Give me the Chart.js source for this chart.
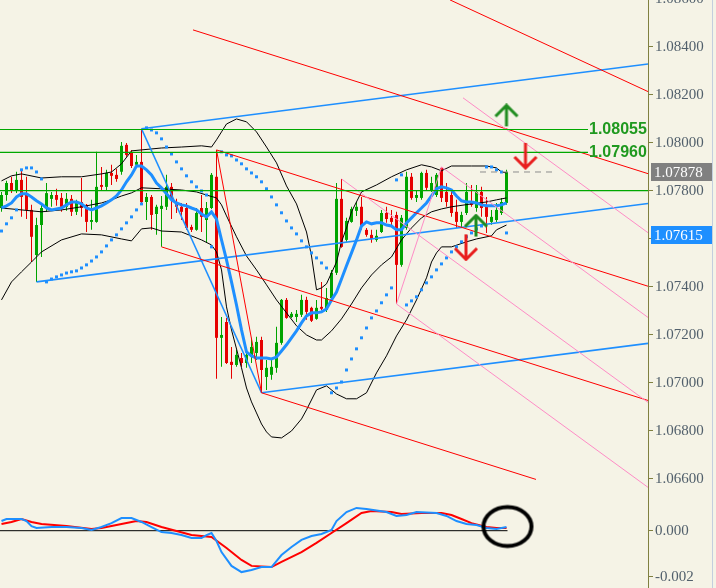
<!DOCTYPE html>
<html>
<head>
<meta charset="utf-8">
<script src="https://cdn.jsdelivr.net/npm/chart.js@4.4.1/dist/chart.umd.min.js"></script>
<style>
  html, body { margin: 0; padding: 0; background: #f5f3e6; }
  canvas { display: block; }
</style>
</head>
<body>
<canvas id="c" width="716" height="588"></canvas>
<script>
// candles, one per bar (bar index = position in array)
const open = [1.07728,1.07782,1.07832,1.07799,1.07845,1.07782,1.07720,1.07532,1.07657,1.07728,
  1.07766,1.07782,1.07770,1.07733,1.07766,1.07712,1.07753,1.07741,1.07670,1.07670,
  1.07824,1.07816,1.07874,1.07866,1.07879,1.07991,1.07958,1.07908,1.07920,1.07753,
  1.07774,1.07703,1.07724,1.07733,1.07816,1.07753,1.07733,1.07728,1.07649,1.07637,
  1.07728,1.07678,1.07728,1.07858,1.07187,1.07253,1.07087,1.07074,1.07103,1.07082,
  1.07108,1.07124,1.07178,1.07024,1.07033,1.07062,1.07166,1.07345,1.07274,1.07274,
  1.07283,1.07345,1.07312,1.07266,1.07316,1.07303,1.07353,1.07458,1.07766,1.07595,
  1.07670,1.07716,1.07733,1.07637,1.07616,1.07595,1.07628,1.07707,1.07687,1.07699,
  1.07491,1.07645,1.07858,1.07770,1.07770,1.07874,1.07803,1.07782,1.07895,1.07795,
  1.07782,1.07712,1.07670,1.07707,1.07753,1.07728,1.07795,1.07733,1.07670,1.07678,
  1.07707,1.07749];
const high = [1.07795,1.07841,1.07858,1.07879,1.07883,1.07858,1.07741,1.07687,1.07741,1.07832,
  1.07795,1.07808,1.07790,1.07790,1.07782,1.07762,1.07853,1.07745,1.07762,1.07962,
  1.07899,1.07887,1.07908,1.07891,1.08003,1.07999,1.07970,1.07949,1.08058,1.07790,
  1.07782,1.07741,1.07778,1.07866,1.07832,1.07766,1.07749,1.07749,1.07658,1.07728,
  1.07782,1.07753,1.07874,1.07970,1.07274,1.07270,1.07149,1.07137,1.07124,1.07137,
  1.07187,1.07191,1.07191,1.07095,1.07095,1.07233,1.07349,1.07353,1.07295,1.07303,
  1.07366,1.07358,1.07316,1.07345,1.07420,1.07395,1.07470,1.07832,1.07849,1.07687,
  1.07733,1.07753,1.07774,1.07645,1.07637,1.07637,1.07720,1.07733,1.07720,1.07712,
  1.07699,1.07879,1.07874,1.07803,1.07879,1.07887,1.07858,1.07874,1.07899,1.07832,
  1.07795,1.07762,1.07712,1.07832,1.07824,1.07824,1.07816,1.07774,1.07720,1.07749,
  1.07770,1.07887];
const low = [1.07712,1.07758,1.07790,1.07790,1.07691,1.07682,1.07503,1.07420,1.07524,1.07712,
  1.07733,1.07737,1.07712,1.07716,1.07695,1.07699,1.07691,1.07628,1.07637,1.07666,
  1.07803,1.07803,1.07824,1.07837,1.07866,1.07941,1.07895,1.07899,1.07749,1.07678,
  1.07637,1.07616,1.07566,1.07720,1.07682,1.07707,1.07678,1.07637,1.07628,1.07633,
  1.07628,1.07583,1.07724,1.07016,1.07066,1.07078,1.07016,1.07066,1.07066,1.07062,
  1.07082,1.07095,1.06958,1.06970,1.07012,1.07041,1.07158,1.07266,1.07270,1.07253,
  1.07274,1.07262,1.07253,1.07262,1.07303,1.07295,1.07345,1.07449,1.07562,1.07587,
  1.07666,1.07695,1.07637,1.07608,1.07583,1.07587,1.07624,1.07666,1.07653,1.07328,
  1.07483,1.07637,1.07762,1.07753,1.07762,1.07803,1.07795,1.07774,1.07753,1.07733,
  1.07691,1.07645,1.07649,1.07699,1.07733,1.07712,1.07691,1.07624,1.07658,1.07670,
  1.07699,1.07741];
const close = [1.07782,1.07832,1.07803,1.07845,1.07774,1.07720,1.07608,1.07657,1.07728,1.07790,
  1.07782,1.07762,1.07733,1.07766,1.07712,1.07753,1.07728,1.07670,1.07678,1.07816,
  1.07816,1.07874,1.07862,1.07849,1.07987,1.07949,1.07903,1.07920,1.07753,1.07774,
  1.07699,1.07733,1.07737,1.07816,1.07762,1.07733,1.07712,1.07645,1.07637,1.07707,
  1.07691,1.07728,1.07866,1.07187,1.07199,1.07082,1.07074,1.07116,1.07082,1.07116,
  1.07149,1.07170,1.07053,1.07062,1.07066,1.07166,1.07345,1.07270,1.07287,1.07287,
  1.07345,1.07295,1.07258,1.07312,1.07308,1.07353,1.07458,1.07766,1.07566,1.07674,
  1.07724,1.07733,1.07649,1.07616,1.07599,1.07612,1.07707,1.07682,1.07670,1.07491,
  1.07687,1.07858,1.07770,1.07782,1.07874,1.07812,1.07832,1.07866,1.07770,1.07753,
  1.07707,1.07670,1.07699,1.07795,1.07741,1.07795,1.07728,1.07691,1.07691,1.07720,
  1.07753,1.07878];

// moving average (blue), one value per bar
const ma = [1.07728,1.07737,1.07749,1.07774,1.07787,1.07787,1.07774,1.07758,1.07745,1.07728,
  1.07720,1.07724,1.07728,1.07741,1.07753,1.07753,1.07745,1.07728,1.07720,1.07728,
  1.07737,1.07749,1.07762,1.07778,1.07803,1.07837,1.07866,1.07903,1.07903,1.07887,
  1.07866,1.07832,1.07812,1.07787,1.07762,1.07749,1.07741,1.07737,1.07728,1.07720,
  1.07703,1.07691,1.07712,1.07682,1.07595,1.07512,1.07420,1.07324,1.07220,1.07128,
  1.07112,1.07103,1.07103,1.07103,1.07099,1.07107,1.07132,1.07158,1.07187,1.07216,
  1.07249,1.07278,1.07291,1.07291,1.07295,1.07307,1.07345,1.07378,1.07432,1.07487,
  1.07541,1.07595,1.07653,1.07670,1.07662,1.07666,1.07666,1.07657,1.07653,1.07637,
  1.07637,1.07666,1.07687,1.07708,1.07728,1.07749,1.07778,1.07808,1.07816,1.07812,
  1.07803,1.07778,1.07758,1.07753,1.07753,1.07749,1.07741,1.07737,1.07737,1.07737,
  1.07741,1.07749];

// parabolic SAR dots, one per bar
const sar = [1.07632,1.07662,1.07687,1.07720,1.07887,1.07895,1.07895,1.07878,1.07849,
  1.07420,1.07432,1.07441,1.07449,1.07457,1.07462,1.07466,1.07478,1.07491,1.07507,1.07524,
  1.07545,1.07570,1.07595,1.07616,1.07641,1.07666,1.07691,1.07720,1.07745,
  1.08062,1.08053,1.08041,1.08016,1.07982,1.07953,1.07920,1.07891,1.07862,1.07837,1.07816,1.07799,1.07782,
  1.07566,null,
  1.07962,1.07949,1.07945,1.07928,1.07912,1.07891,1.07874,1.07858,1.07837,1.07808,1.07774,
  1.07741,1.07708,1.07674,1.07645,1.07620,1.07591,1.07566,1.07541,1.07520,1.07499,1.07478,
  1.06958,1.06978,1.07003,1.07053,1.07099,1.07141,1.07187,1.07228,1.07270,1.07299,1.07333,1.07366,1.07395,
  1.07845,1.07866,
  1.07324,1.07341,1.07358,1.07387,1.07416,1.07441,1.07470,1.07495,1.07520,1.07545,1.07566,1.07587,
  1.07608,1.07624,1.07641,1.07653,
  1.07899,1.07899,1.07887,1.07878,
  1.07624];

// bollinger bands, read at these bars
const upIdx = [0,2,4,8,12,16,20,22,24,26,28,32,36,40,42,43,44,45,47,49,51,53,55,57,59,61,62,63,64,65,67,68,69,70,72,75,78,81,84,86,88,90,94,97,99,100,101];
const bbUp = [1.07841,1.07862,1.07870,1.07853,1.07858,1.07858,1.07870,1.07878,1.07912,1.07966,
  1.07970,1.07978,1.07982,1.07987,1.07982,1.08012,1.08045,1.08078,1.08099,1.08087,
  1.08045,1.07982,1.07916,1.07820,1.07745,1.07628,1.07528,1.07387,1.07395,1.07412,
  1.07503,1.07587,1.07645,1.07712,1.07795,1.07824,1.07858,1.07887,1.07908,1.07899,
  1.07883,1.07903,1.07903,1.07903,1.07895,1.07878,1.07874];
const midIdx = [0,4,8,12,16,20,22,24,26,28,32,36,39,41,43,44,45,47,49,51,53,55,57,59,61,63,64,66,68,70,72,74,76,78,80,82,84,86,88,90,94,97,99,101];
const bbMid = [1.07728,1.07720,1.07712,1.07720,1.07733,1.07749,1.07762,1.07778,1.07791,1.07812,
  1.07808,1.07803,1.07795,1.07782,1.07770,1.07741,1.07695,1.07608,1.07528,1.07470,
  1.07408,1.07345,1.07291,1.07237,1.07199,1.07178,1.07178,1.07216,1.07266,1.07328,
  1.07395,1.07449,1.07491,1.07524,1.07595,1.07645,1.07687,1.07712,1.07724,1.07733,
  1.07745,1.07753,1.07762,1.07770];
const lowIdx = [0,2,4,6,8,12,16,20,24,26,28,30,32,36,40,42,43,44,45,46,48,49,50,51,52,53,54,56,58,60,61,63,65,67,69,71,73,75,77,79,81,83,85,86,87,88,90,93,95,98,99,101];
const bbLow = [1.07345,1.07420,1.07462,1.07503,1.07545,1.07595,1.07620,1.07616,1.07599,1.07591,
  1.07641,1.07645,1.07632,1.07628,1.07595,1.07574,1.07545,1.07470,1.07316,1.07220,
  1.07062,1.06978,1.06920,1.06874,1.06828,1.06795,1.06774,1.06770,1.06799,1.06849,
  1.06887,1.06970,1.06987,1.06953,1.06933,1.06933,1.06958,1.07041,1.07112,1.07195,
  1.07262,1.07345,1.07437,1.07503,1.07541,1.07566,1.07566,1.07587,1.07599,1.07612,
  1.07637,1.07657];

// MACD panel
const macdIdx = [0,1,4,5,6,7,10,13,16,18,20,22,24,26,28,30,32,34,36,38,40,41,42,43,44,46,48,50,52,54,56,58,60,62,64,66,67,69,71,73,77,79,81,83,87,89,91,93,95,97,99,101];
const macdMain = [0.00042,0.00051,0.00051,0.00042,0.00020,0.00012,0.00016,0.00016,0.00012,0.00003,
  0.00016,0.00033,0.00055,0.00055,0.00038,0.00016,-0.00006,-0.00010,-0.00019,-0.00032,
  -0.00032,-0.00019,-0.00010,-0.00045,-0.00093,-0.00153,-0.00180,-0.00171,-0.00158,-0.00158,
  -0.00106,-0.00071,-0.00040,-0.00023,-0.00014,0.00003,0.00042,0.00081,0.00099,0.00094,
  0.00081,0.00064,0.00068,0.00081,0.00077,0.00064,0.00042,0.00029,0.00025,0.00012,
  0.00007,0.00016];
const sigIdx = [0,2,4,6,8,13,18,20,24,27,29,32,35,38,42,45,48,50,54,56,60,63,66,69,72,74,78,80,84,88,90,92,94,97,99,101];
const macdSignal = [0.00029,0.00038,0.00051,0.00038,0.00029,0.00020,0.00007,0.00012,0.00029,0.00042,
  0.00038,0.00016,-0.00001,-0.00019,-0.00027,-0.00075,-0.00127,-0.00153,-0.00158,-0.00136,
  -0.00093,-0.00053,-0.00010,0.00033,0.00077,0.00086,0.00081,0.00073,0.00077,0.00077,
  0.00068,0.00051,0.00033,0.00016,0.00012,0.00012];

// drawn objects: [bar1, price1, bar2, price2]
const redLines = [[38.3,1.08470,129.3,1.07871],[89.7,1.08595,129.3,1.08213],[43,1.07970,129.3,1.07402],
  [32,1.07566,129.3,1.06926],[52,1.06958,106.9,1.06597],[43,1.07970,52,1.06958]];
const blueLines = [[28,1.08058,129.3,1.08328],[7,1.07420,129.3,1.07747],[52,1.06958,129.3,1.07164],
  [28,1.08058,52,1.06958]];
const pinkLines = [[68,1.07849,129.3,1.06918],[79,1.07328,129.3,1.06564],[88,1.07899,129.3,1.07272],
  [92.3,1.08187,129.3,1.07625],[79,1.07328,88,1.07899]];
const levels = [1.08055, 1.07960, 1.07800];
const levelEnd = [117.3, 117.3, 129.3];
const levelText = ['1.08055', '1.07960'];
const bid = 1.07878;
const blueMark = 1.07615;
const topTick = 1.086;
const upArrowX = [101, 94.9], upArrowY = [1.08114, 1.07655];
const downArrowX = [104.8, 92.9], downArrowY = [1.07945, 1.07564];

const GREEN = '#00a400', RED = '#e60000', BLUE = '#1e8fff', PINK = '#ff8cc6';

function pts(xs, ys) { return xs.map((x, i) => ({x: x, y: ys[i]})); }
function seg(l) { return [{x: l[0], y: l[1]}, {x: l[2], y: l[3]}]; }

function arrow(color, up, h) {
  const c = document.createElement('canvas');
  c.width = 26; c.height = h + 2;
  const g = c.getContext('2d');
  g.strokeStyle = color; g.lineWidth = 3; g.lineJoin = 'miter';
  g.beginPath();
  if (up) {
    g.moveTo(13, 2); g.lineTo(13, h + 1);
    g.moveTo(2, 13); g.lineTo(13, 2); g.lineTo(24, 13);
  } else {
    g.moveTo(13, 1); g.lineTo(13, h);
    g.moveTo(2, h - 11); g.lineTo(13, h); g.lineTo(24, h - 11);
  }
  g.stroke();
  return c;
}
function ellipse() {
  const c = document.createElement('canvas');
  c.width = 56; c.height = 46;
  const g = c.getContext('2d');
  g.strokeStyle = '#000'; g.lineWidth = 4;
  g.beginPath(); g.ellipse(28, 23, 24, 19.5, 0, 0, Math.PI * 2); g.stroke();
  return c;
}

const lineDs = (data, color, width, axis) => ({
  type: 'line', data: data, yAxisID: axis || 'y', borderColor: color, borderWidth: width,
  pointRadius: 0, tension: 0, fill: false
});

const datasets = [];
datasets.push({type: 'scatter', yAxisID: 'y2', data: [{x: 101.2, y: 0.00018}], pointStyle: ellipse(), pointRadius: 10, clip: false});
datasets.push({type: 'scatter', yAxisID: 'y', data: pts(upArrowX, upArrowY), pointStyle: arrow('#1f8c1f', true, 22), pointRadius: 10});
datasets.push({type: 'scatter', yAxisID: 'y', data: pts(downArrowX, downArrowY), pointStyle: arrow('#e81e1e', false, 26), pointRadius: 10});
datasets.push(lineDs(pts(macdIdx, macdMain), BLUE, 2, 'y2'));
datasets.push(lineDs(pts(sigIdx, macdSignal), '#ff0000', 2, 'y2'));
datasets.push(lineDs([{x: -0.3, y: 0}, {x: 101.2, y: 0}], '#000', 1, 'y2'));
levels.forEach((p, i) => datasets.push(lineDs([{x: -0.3, y: p}, {x: levelEnd[i], y: p}], '#00a800', 1.2)));
datasets.push(Object.assign(lineDs([{x: 95.7, y: bid}, {x: 111, y: bid}], '#8c8c8c', 1), {borderDash: [6, 5]}));
pinkLines.forEach(l => datasets.push(lineDs(seg(l), PINK, 1)));
redLines.forEach(l => datasets.push(lineDs(seg(l), '#ff0000', 1)));
blueLines.forEach(l => datasets.push(lineDs(seg(l), BLUE, 1.6)));
datasets.push({type: 'scatter', yAxisID: 'y',
  data: sar.map((v, i) => ({x: i, y: v})).filter(p => p.y !== null),
  pointStyle: 'rect', pointRadius: 2.1, backgroundColor: BLUE, borderWidth: 0});
datasets.push(lineDs(ma.map((v, i) => ({x: i, y: v})), BLUE, 3));
datasets.push(lineDs(pts(upIdx, bbUp), '#000', 1));
datasets.push(lineDs(pts(midIdx, bbMid), '#000', 1));
datasets.push(lineDs(pts(lowIdx, bbLow), '#000', 1));

const candleColor = open.map((o, i) => close[i] >= o ? GREEN : RED);
datasets.push({type: 'bar', yAxisID: 'y', data: open.map((o, i) => ({x: i, y: [o, close[i]]})),
  backgroundColor: candleColor, barThickness: 3, minBarLength: 1, grouped: false, borderWidth: 0, inflateAmount: 0});
datasets.push({type: 'bar', yAxisID: 'y', data: low.map((l, i) => ({x: i, y: [l, high[i]]})),
  backgroundColor: candleColor, barThickness: 1, grouped: false, borderWidth: 0, inflateAmount: 0});

const AXIS = '#808040';
const axisFont = {family: '"Liberation Serif", "Times New Roman", serif', size: 15};

const paint = {
  id: 'paint',
  beforeDraw(chart) {
    const c = chart.ctx;
    c.save(); c.fillStyle = '#f5f3e6'; c.fillRect(0, 0, chart.width, chart.height); c.restore();
  },
  afterDatasetsDraw(chart) {
    const c = chart.ctx, xs = chart.scales.x, ys = chart.scales.y;
    c.save();
    c.font = 'bold 16px "Liberation Sans", Arial, sans-serif';
    c.fillStyle = '#1f991f';
    c.textBaseline = 'middle';
    levelText.forEach((t, i) => c.fillText(t, xs.getPixelForValue(117.5), ys.getPixelForValue(levels[i])));
    c.restore();
  },
  afterDraw(chart) {
    const c = chart.ctx, ys = chart.scales.y;
    const left = ys.left + 3;
    c.save();
    c.font = '15px "Liberation Serif", "Times New Roman", serif';
    c.textBaseline = 'middle';
    [[bid, '#808080'], [blueMark, '#1e8fff']].forEach(b => {
      const py = Math.round(ys.getPixelForValue(b[0]));
      c.fillStyle = b[1];
      c.fillRect(left, py - 9, 62, 18);
      c.fillStyle = '#ffffff';
      c.fillText(b[0].toFixed(5), left + 3, py + 1);
    });
    c.fillStyle = '#c4cede';
    c.fillRect(712, 0, 1, chart.height);
    c.restore();
  }
};

new Chart(document.getElementById('c'), {
  type: 'line',
  data: {datasets: datasets},
  options: {
    responsive: false,
    animation: false,
    events: [],
    layout: {padding: 0, autoPadding: false},
    plugins: {legend: {display: false}, tooltip: {enabled: false}},
    scales: {
      x: {type: 'linear', min: -0.3, max: 129.3, display: false, offset: false},
      y: {
        type: 'linear', position: 'right', stack: 'pane', stackWeight: 494,
        min: 1.065363, max: 1.085946,
        ticks: {stepSize: 0.002, includeBounds: false, color: '#52606c', font: axisFont, padding: 2,
          callback: v => v.toFixed(5)},
        grid: {drawOnChartArea: false, tickLength: 5, tickColor: AXIS},
        border: {color: AXIS, width: 1},
        afterBuildTicks(s) { s.ticks.push({value: topTick}); },
        afterFit(s) { s.width = 68; s.paddingTop = 0; s.paddingBottom = 0; }
      },
      y2: {
        type: 'linear', position: 'right', stack: 'pane', stackWeight: 94,
        min: -0.0024913, max: 0.0015957,
        ticks: {stepSize: 0.002, includeBounds: false, color: '#52606c', font: axisFont, padding: 2,
          callback: v => v.toFixed(3)},
        grid: {drawOnChartArea: false, tickLength: 5, tickColor: AXIS},
        border: {color: AXIS, width: 1},
        afterFit(s) { s.width = 68; s.paddingTop = 0; s.paddingBottom = 0; }
      }
    }
  },
  plugins: [paint]
});
</script>
</body>
</html>
